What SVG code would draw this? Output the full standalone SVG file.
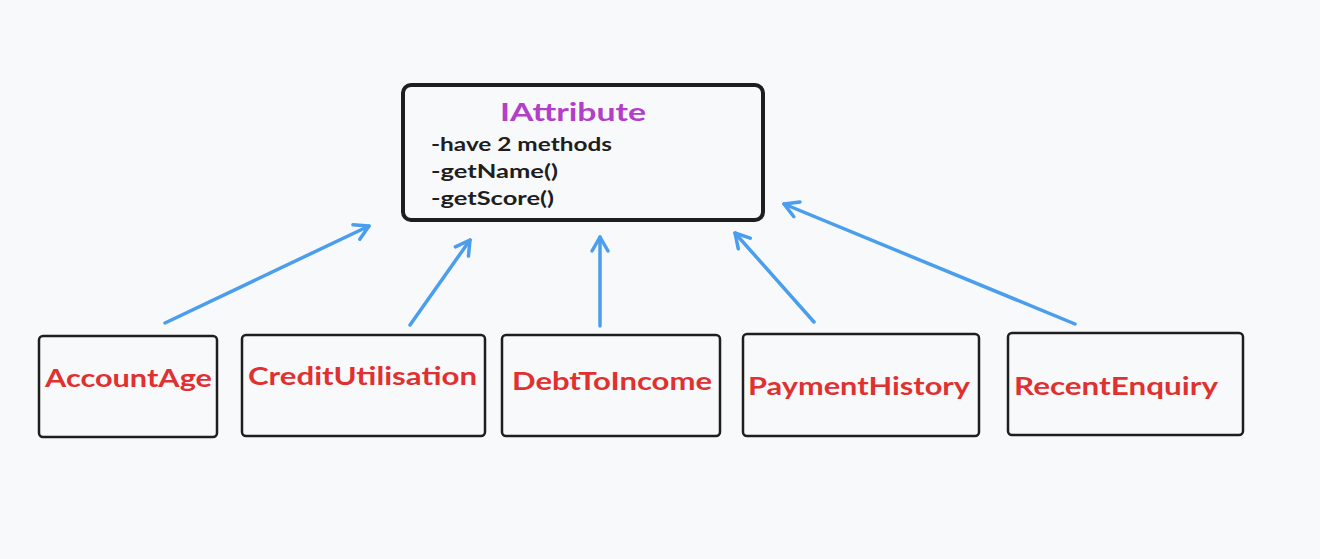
<svg xmlns="http://www.w3.org/2000/svg" width="1320" height="559" viewBox="0 0 1320 559">
<style>
.box{fill:none;stroke:#1e1e1e;stroke-width:2.5}
.main{fill:none;stroke:#1e1e1e;stroke-width:4}
.lbl{font-family:"Comic Sans MS","Lato","Noto Sans",sans-serif;font-weight:bold;font-size:24px;fill:#e03131}
.ttl{font-family:"Lato","Noto Sans",sans-serif;font-weight:bold;font-size:24px;fill:#b23fc9}
.txt{font-family:"Lato","Noto Sans",sans-serif;font-weight:bold;font-size:19px;fill:#1e1e1e}
.arr{fill:none;stroke:#4a9eed;stroke-width:3.5;stroke-linecap:round;marker-end:url(#ah)}
</style>
<defs>
<marker id="ah" markerUnits="userSpaceOnUse" viewBox="-18 -12 22 24" refX="0" refY="0" markerWidth="22" markerHeight="24" orient="auto">
<path d="M-14,-8 L0,0 L-14,8" fill="none" stroke="#4a9eed" stroke-width="3.5" stroke-linecap="round" stroke-linejoin="round"/>
</marker>
</defs>
<rect width="1320" height="559" fill="#f8f9fb"/>
<g id="connectors">
<line class="arr" x1="165" y1="323" x2="369" y2="226"/>
<line class="arr" x1="410" y1="325" x2="470" y2="240"/>
<line class="arr" x1="600" y1="326" x2="600" y2="237"/>
<line class="arr" x1="814" y1="322" x2="735" y2="233"/>
<line class="arr" x1="1075" y1="324" x2="784" y2="204"/>
</g>
<g id="IAttribute">
<rect class="main" x="403" y="85" width="360" height="135" rx="8"/>
<text class="ttl" x="573" y="121" text-anchor="middle" textLength="146" lengthAdjust="spacingAndGlyphs">IAttribute</text>
<text class="txt" x="431" y="151" textLength="181" lengthAdjust="spacingAndGlyphs">-have 2 methods</text>
<text class="txt" x="431" y="178" textLength="127" lengthAdjust="spacingAndGlyphs">-getName()</text>
<text class="txt" x="431" y="205" textLength="123" lengthAdjust="spacingAndGlyphs">-getScore()</text>
</g>
<g id="AccountAge">
<rect class="box" x="39" y="336" width="178" height="101" rx="4"/>
<text class="lbl" x="45" y="387" textLength="167" lengthAdjust="spacingAndGlyphs">AccountAge</text>
</g>
<g id="CreditUtilisation">
<rect class="box" x="242" y="335" width="243" height="101" rx="4"/>
<text class="lbl" x="248" y="385" textLength="229" lengthAdjust="spacingAndGlyphs">CreditUtilisation</text>
</g>
<g id="DebtToIncome">
<rect class="box" x="502" y="335" width="218" height="101" rx="4"/>
<text class="lbl" x="512" y="390" textLength="200" lengthAdjust="spacingAndGlyphs">DebtToIncome</text>
</g>
<g id="PaymentHistory">
<rect class="box" x="743" y="334" width="236" height="102" rx="4"/>
<text class="lbl" x="748" y="395" textLength="222" lengthAdjust="spacingAndGlyphs">PaymentHistory</text>
</g>
<g id="RecentEnquiry">
<rect class="box" x="1008" y="333" width="235" height="102" rx="4"/>
<text class="lbl" x="1014" y="395" textLength="204" lengthAdjust="spacingAndGlyphs">RecentEnquiry</text>
</g>
</svg>
